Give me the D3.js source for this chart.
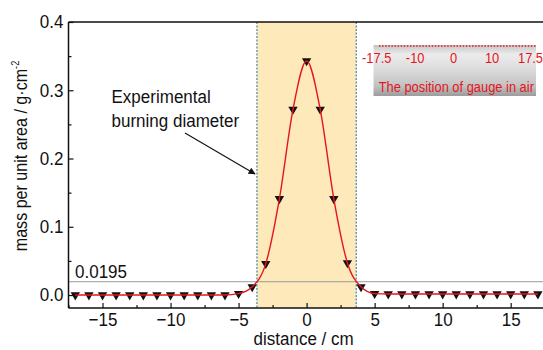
<!DOCTYPE html>
<html>
<head>
<meta charset="utf-8">
<script src="https://cdn.jsdelivr.net/npm/d3@7"></script>
<style>
  html, body { margin: 0; padding: 0; background: #fff; }
  svg { display: block; font-family: "Liberation Sans", Arial, sans-serif; }
</style>
</head>
<body>
<svg id="chart" width="543" height="350"></svg>
<script>
// Measured mass per unit area along the gauge line
const distance = [-17, -16, -15, -14, -13, -12, -11, -10, -9, -8, -7, -6, -5, -4, -3, -2, -1,
                  0, 1, 2, 3, 4, 5, 6, 7, 8, 9, 10, 11, 12, 13, 14, 15, 16, 17];
const mass = [0.000, 0.000, 0.000, 0.000, 0.000, 0.000, 0.000, 0.000, 0.000, 0.000, 0.000, 0.000,
              0.002, 0.012, 0.046, 0.141, 0.272, 0.343, 0.272, 0.141, 0.047, 0.012, 0.002,
              0.0015, 0.0015, 0.0015, 0.0015, 0.0015, 0.0015, 0.0015, 0.0015, 0.0015, 0.0015, 0.0015, 0.0015];

// Burning zone and threshold
const burnEdges = [-3.65, 3.65];
const threshold = 0.0195;

// Axis ticks
const xMajorTicks = [-15, -10, -5, 0, 5, 10, 15];
const xMinorTicks = [-17.5, -12.5, -7.5, -2.5, 2.5, 7.5, 12.5, 17.5];
const yMajorTicks = [0.0, 0.1, 0.2, 0.3, 0.4];
const yMinorTicks = [0.05, 0.15, 0.25, 0.35];

// Gauge position labels in the inset
const gaugeLabels = ["-17.5", "-10", "0", "10", "17.5"];

const svg = d3.select("#chart");
const plotLeft = 68.5, plotRight = 544.7, plotTop = 22, plotBottom = 308;

const x = d3.scaleLinear().domain([-17.5, 17.5]).range([plotLeft, plotRight]);
const y = d3.scaleLinear().domain([-0.019, 0.4]).range([plotBottom, plotTop]);

const FONT = 18.5;
const SQUEEZE = 0.92;          // slightly condensed lettering
const RED = "#e5161d";

// Turn x/y placement into a transform so the glyphs can be condensed horizontally
function condense(sel) {
  sel.each(function () {
    const t = d3.select(this);
    const tx = +t.attr("x") || 0, ty = +t.attr("y") || 0;
    const prev = t.attr("transform") || "";
    t.attr("x", 0).attr("y", 0)
      .attr("transform", `${prev} translate(${tx},${ty}) scale(${SQUEEZE},1)`);
  });
  return sel;
}

// Burning diameter band
svg.append("rect")
  .attr("x", x(burnEdges[0])).attr("y", plotTop)
  .attr("width", x(burnEdges[1]) - x(burnEdges[0]))
  .attr("height", plotBottom - plotTop)
  .attr("fill", "#fde9b9");

svg.selectAll("line.edge").data(burnEdges).join("line")
  .attr("class", "edge")
  .attr("x1", d => x(d)).attr("x2", d => x(d))
  .attr("y1", plotTop).attr("y2", plotBottom)
  .attr("stroke", "#4f8fae").attr("stroke-width", 1.3)
  .attr("stroke-dasharray", "2,1.5");

// Threshold line
svg.append("line")
  .attr("x1", plotLeft).attr("x2", 543)
  .attr("y1", y(threshold)).attr("y2", y(threshold))
  .attr("stroke", "#9a9a9a").attr("stroke-width", 1);

svg.append("text")
  .attr("x", 75).attr("y", y(threshold) - 3.5)
  .attr("font-size", FONT).attr("fill", "#111")
  .text(threshold.toString())
  .call(condense);

// Frame: top line plus axes
svg.append("line").attr("x1", plotLeft).attr("x2", 543).attr("y1", plotTop).attr("y2", plotTop)
  .attr("stroke", "#111").attr("stroke-width", 1.5);

const xAxis = svg.append("g").attr("transform", `translate(0,${plotBottom})`)
  .call(d3.axisBottom(x).tickValues(xMajorTicks).tickSizeInner(-5).tickSizeOuter(0)
    .tickPadding(5).tickFormat(d3.format("d")));
const xMinor = svg.append("g").attr("transform", `translate(0,${plotBottom})`)
  .call(d3.axisBottom(x).tickValues(xMinorTicks).tickSizeInner(-3).tickSizeOuter(0).tickFormat(""));

const yAxis = svg.append("g").attr("transform", `translate(${plotLeft},0)`)
  .call(d3.axisLeft(y).tickValues(yMajorTicks).tickSizeInner(-5).tickSizeOuter(0)
    .tickPadding(5).tickFormat(d3.format(".1f")));
const yMinor = svg.append("g").attr("transform", `translate(${plotLeft},0)`)
  .call(d3.axisLeft(y).tickValues(yMinorTicks).tickSizeInner(-3).tickSizeOuter(0).tickFormat(""));

[xAxis, xMinor, yAxis, yMinor].forEach(g => {
  g.select(".domain").remove();
  g.selectAll(".tick line").attr("stroke", "#111").attr("stroke-width", 1.2);
  g.selectAll("text").attr("font-size", FONT).attr("font-family", null).attr("fill", "#111")
    .call(condense);
});

svg.append("line").attr("x1", plotLeft).attr("x2", 543).attr("y1", plotBottom).attr("y2", plotBottom)
  .attr("stroke", "#111").attr("stroke-width", 1.5);
svg.append("line").attr("x1", plotLeft).attr("x2", plotLeft).attr("y1", plotTop).attr("y2", plotBottom)
  .attr("stroke", "#111").attr("stroke-width", 1.5);

// Axis titles
svg.append("text")
  .attr("x", (plotLeft + plotRight) / 2 - 3).attr("y", 345)
  .attr("text-anchor", "middle").attr("font-size", FONT).attr("fill", "#111")
  .text("distance / cm")
  .call(condense);

const yTitle = svg.append("text")
  .attr("transform", `translate(27,156) rotate(-90) scale(${SQUEEZE},1)`)
  .attr("text-anchor", "middle").attr("font-size", 17.5).attr("fill", "#111");
yTitle.append("tspan").text("mass per unit area / g·cm");
yTitle.append("tspan").attr("font-size", 10).attr("dy", -8).text("-2");

// Data markers (downward triangles)
const tri = d3.symbol().type(d3.symbolTriangle).size(38);
svg.append("g").selectAll("path").data(distance).join("path")
  .attr("d", tri)
  .attr("transform", (d, i) => `translate(${x(d)},${y(mass[i])}) rotate(180)`)
  .attr("fill", "#111");

// Smooth profile through the measurements
const line = d3.line()
  .x((d, i) => x(distance[i]))
  .y((d, i) => y(mass[i]))
  .curve(d3.curveMonotoneX);
svg.append("path")
  .datum(mass)
  .attr("d", line)
  .attr("fill", "none").attr("stroke", RED).attr("stroke-width", 1.4);

// Annotation with arrow
const defs = svg.append("defs");
defs.append("marker")
  .attr("id", "arrowhead").attr("viewBox", "0 0 10 10")
  .attr("refX", 9).attr("refY", 5)
  .attr("markerWidth", 9).attr("markerHeight", 7)
  .attr("markerUnits", "userSpaceOnUse")
  .attr("orient", "auto")
  .append("path").attr("d", "M0,0 L10,5 L0,10 Z").attr("fill", "#111");

svg.append("text").attr("x", 111.5).attr("y", 103)
  .attr("font-size", FONT).attr("fill", "#111").text("Experimental")
  .call(condense);
svg.append("text").attr("x", 111.5).attr("y", 127)
  .attr("font-size", FONT).attr("fill", "#111").text("burning diameter")
  .call(condense);

svg.append("line")
  .attr("x1", 185).attr("y1", 133)
  .attr("x2", 255).attr("y2", 174)
  .attr("stroke", "#111").attr("stroke-width", 1.1)
  .attr("marker-end", "url(#arrowhead)");

// Inset: gauge positions in air
const grad = defs.append("linearGradient")
  .attr("id", "insetGrad").attr("x1", 0).attr("y1", 0).attr("x2", 0).attr("y2", 1);
grad.append("stop").attr("offset", "0%").attr("stop-color", "#c4c4c4");
grad.append("stop").attr("offset", "18%").attr("stop-color", "#ececec");
grad.append("stop").attr("offset", "45%").attr("stop-color", "#dedede");
grad.append("stop").attr("offset", "80%").attr("stop-color", "#c2c2c2");
grad.append("stop").attr("offset", "100%").attr("stop-color", "#9c9c9c");

svg.append("rect")
  .attr("x", 373.5).attr("y", 45).attr("width", 162.5).attr("height", 51)
  .attr("fill", "url(#insetGrad)");

svg.append("line")
  .attr("x1", 379).attr("x2", 537).attr("y1", 46).attr("y2", 46)
  .attr("stroke", RED).attr("stroke-width", 1.6).attr("stroke-dasharray", "1.5,1.6");

const gx = d3.scalePoint().domain(gaugeLabels).range([376.7, 530.5]);
svg.append("g").selectAll("text").data(gaugeLabels).join("text")
  .attr("x", d => gx(d)).attr("y", 63)
  .attr("text-anchor", "middle").attr("font-size", 14).attr("fill", RED)
  .text(d => d)
  .call(condense);

svg.append("text")
  .attr("x", 456.3).attr("y", 91.5)
  .attr("text-anchor", "middle").attr("font-size", 14).attr("fill", RED)
  .text("The position of gauge in air")
  .call(condense);
</script>
</body>
</html>
